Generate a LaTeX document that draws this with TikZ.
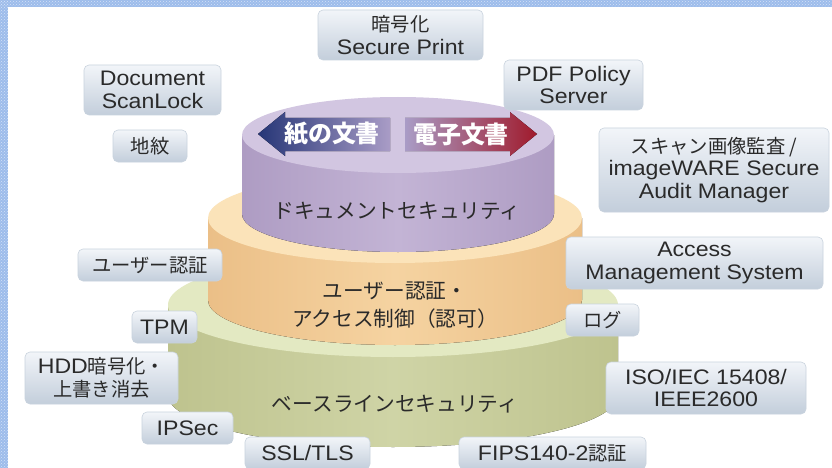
\documentclass[tikz,border=0pt]{standalone}
\usepackage{fontspec}
\setmainfont{Liberation Sans}[FakeStretch=1.1]
\newfontfamily\jp{Noto Sans CJK JP}[Scale=0.92]
\usetikzlibrary{patterns}
\definecolor{bordercol}{HTML}{9DBCEB}
\definecolor{borderdot}{HTML}{D4E2F7}
\definecolor{boxtop}{HTML}{F2F5F9}
\definecolor{boxbot}{HTML}{C3CEDB}
\definecolor{boxedge}{HTML}{C9D3DE}
\definecolor{txt}{HTML}{2A2A2A}
\definecolor{pTop}{HTML}{D2C6E1}
\definecolor{pSideA}{HTML}{AE9CC3}
\definecolor{pSideB}{HTML}{C3B4D5}
\definecolor{oTop}{HTML}{FBE3B9}
\definecolor{oSideA}{HTML}{EBBF87}
\definecolor{oSideB}{HTML}{F5D3A1}
\definecolor{gTop}{HTML}{E3E9C2}
\definecolor{gSideA}{HTML}{BEC38E}
\definecolor{gSideB}{HTML}{CFD4A6}
\definecolor{navy}{HTML}{263677}
\definecolor{lav}{HTML}{A99CC6}
\definecolor{wine}{HTML}{A01A2C}
\tikzset{
  box/.style={rounded corners=5pt, top color=boxtop, bottom color=boxbot,
    draw=boxedge, line width=0.6pt, align=center, inner sep=0pt, text=txt,
    font=\fontsize{21}{22.5}\selectfont},
  layer/.style={align=center, text=txt, font=\jp\fontsize{22.5}{28}\selectfont},
  arrowtext/.style={text=white, font=\jp\bfseries\fontsize{26}{28}\selectfont}
}
\begin{document}
\begin{tikzpicture}[x=1pt,y=-1pt]
\useasboundingbox (0,0) rectangle (832,468);
\clip (0,0) rectangle (832,468);
\fill[white] (0,0) rectangle (832,468);
% border strips
\fill[bordercol] (0,0) rectangle (8,468);
\fill[bordercol] (0,0) rectangle (832,7);
\fill[pattern=crosshatch dots, pattern color=borderdot] (0,0) rectangle (8,468);
\fill[pattern=crosshatch dots, pattern color=borderdot] (0,0) rectangle (832,7);

% green cylinder
\fill[left color=gSideA, right color=gSideA, middle color=gSideB]
  (168,305) -- (168,395) arc[start angle=180,end angle=0,x radius=225,y radius=52] -- (618,305) -- cycle;
\fill[gTop] (393,305) ellipse[x radius=225,y radius=52];
% orange cylinder
\fill[left color=oSideA, right color=oSideA, middle color=oSideB]
  (208,218) -- (208,300) arc[start angle=180,end angle=0,x radius=187,y radius=45] -- (582,218) -- cycle;
\fill[oTop] (395,218) ellipse[x radius=187,y radius=45];
% purple cylinder
\fill[left color=pSideA, right color=pSideA, middle color=pSideB]
  (242,135) -- (242,214) arc[start angle=180,end angle=0,x radius=156,y radius=38] -- (554,135) -- cycle;
\fill[pTop] (398,135) ellipse[x radius=156,y radius=38];

% arrows
\fill[left color=navy, right color=lav]
  (258,134) -- (285,112) -- (285,118) -- (390,118) -- (390,151) -- (285,151) -- (285,156) -- cycle;
\fill[left color=lav, right color=wine]
  (537,134) -- (510,112) -- (510,118) -- (405,118) -- (405,151) -- (510,151) -- (510,156) -- cycle;
\node[arrowtext] (paper) at (332,134) {紙の文書};
\node[arrowtext] (digital) at (461,134) {電子文書};

% layer labels
\node[layer] (docsec) at (397,211) {ドキュメントセキュリティ};
\node[layer] (usersec) at (395,305) {ユーザー認証・\\アクセス制御（認可）};
\node[layer] (basesec) at (395,404) {ベースラインセキュリティ};

% boxes
\node[box, minimum width=165pt, minimum height=50pt] (sprint) at (400.5,35) {{\jp 暗号化}\\Secure Print};
\node[box, minimum width=137pt, minimum height=50pt] (scanlock) at (152.5,90) {Document\\ScanLock};
\node[box, minimum width=74pt, minimum height=32pt] (jimon) at (150,146) {\jp 地紋};
\node[box, minimum width=139pt, minimum height=50pt] (pdf) at (573.5,85) {PDF Policy\\Server};
\node[box, minimum width=230pt, minimum height=84pt] (audit) at (714,170) {{\jp スキャン画像監査 /}\\imageWARE Secure\\Audit Manager};
\node[box, minimum width=144pt, minimum height=32pt] (uauth) at (150,265) {\jp ユーザー認証};
\node[box, minimum width=65pt, minimum height=32pt] (tpm) at (164.5,327) {TPM};
\node[box, minimum width=153pt, minimum height=52pt] (hdd) at (101.5,378) {HDD{\jp 暗号化・}\\{\jp 上書き消去}};
\node[box, minimum width=91pt, minimum height=32pt] (ipsec) at (187.5,428) {IPSec};
\node[box, minimum width=125pt, minimum height=32pt] (ssl) at (307.5,453) {SSL/TLS};
\node[box, minimum width=257pt, minimum height=52pt] (ams) at (694.5,263) {Access\\Management System};
\node[box, minimum width=73pt, minimum height=32pt] (log) at (602.5,320) {\jp ログ};
\node[box, minimum width=200pt, minimum height=52pt] (iso) at (706,388) {ISO/IEC 15408/\\IEEE2600};
\node[box, minimum width=187pt, minimum height=32pt] (fips) at (552.5,453) {FIPS140-2{\jp 認証}};
\end{tikzpicture}
\end{document}
